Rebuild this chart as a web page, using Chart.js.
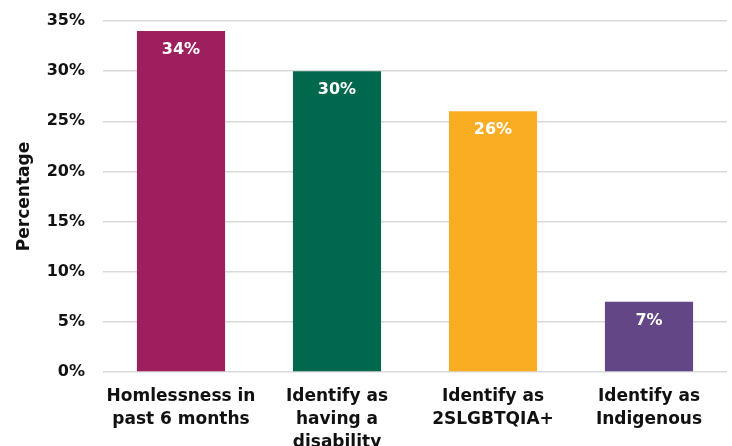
<!DOCTYPE html>
<html>
<head>
<meta charset="utf-8">
<script src="https://cdn.jsdelivr.net/npm/chart.js@4"></script>
<style>
  html, body { margin: 0; padding: 0; background: #fff; }
  #wrap { width: 732px; height: 446px; }
</style>
</head>
<body>
<div id="wrap"><canvas id="grafico"></canvas></div>
<script>
const categorias = [
  ['Homlessness in', 'past 6 months'],
  ['Identify as', 'having a', 'disability'],
  ['Identify as', '2SLGBTQIA+'],
  ['Identify as', 'Indigenous']
]
const valores = [34, 30, 26, 7]
const cores = ['#9e1f5e', '#00684c', '#f8ad23', '#634686']
const fonte = '"DejaVu Sans", sans-serif'

// rotulos brancos dentro das barras
const rotulos = {
  id: 'rotulos',
  afterDatasetsDraw(chart) {
    const ctx = chart.ctx
    const meta = chart.getDatasetMeta(0)
    ctx.save()
    ctx.fillStyle = '#ffffff'
    ctx.font = 'bold 16px ' + fonte
    ctx.textAlign = 'center'
    ctx.textBaseline = 'middle'
    meta.data.forEach((bar, i) => {
      ctx.fillText(valores[i] + '%', bar.x, bar.y + 19)
    })
    ctx.restore()
  }
}

window.addEventListener('load', setup)
function setup(){
  const ctx = document.getElementById('grafico').getContext('2d')
  new Chart(ctx, {
    type: 'bar',
    data: {
      labels: categorias,
      datasets: [{
        data: valores,
        backgroundColor: cores,
        borderWidth: 0,
        barPercentage: 0.565,
        categoryPercentage: 1
      }]
    },
    options: {
      responsive: true,
      maintainAspectRatio: false,
      animation: false,
      layout: { padding: { top: 21, right: 5, left: 0, bottom: 0 } },
      plugins: {
        legend: { display: false },
        tooltip: { enabled: false }
      },
      scales: {
        x: {
          grid: { display: false },
          border: { display: false },
          ticks: {
            color: '#111',
            font: { family: fonte, size: 17, weight: 'bold', lineHeight: 1.35 },
            padding: 5,
            maxRotation: 0,
            autoSkip: false
          },
          afterFit(scale) { scale.height = 74 }
        },
        y: {
          min: 0,
          max: 35,
          grid: { color: '#d9d9d9', lineWidth: 1.5, drawTicks: false },
          border: { display: false },
          ticks: {
            stepSize: 5,
            color: '#111',
            padding: 18,
            font: { family: fonte, size: 16, weight: 'bold' },
            callback: v => v + '%'
          },
          title: {
            display: true,
            text: 'Percentage',
            color: '#111',
            font: { family: fonte, size: 17, weight: 'bold' },
            padding: { top: 14, bottom: 0 }
          },
          afterFit(scale) {
            scale.width = 103
            scale.paddingTop = 0
            scale.paddingBottom = 0
          }
        }
      }
    },
    plugins: [rotulos]
  })
}
</script>
</body>
</html>
